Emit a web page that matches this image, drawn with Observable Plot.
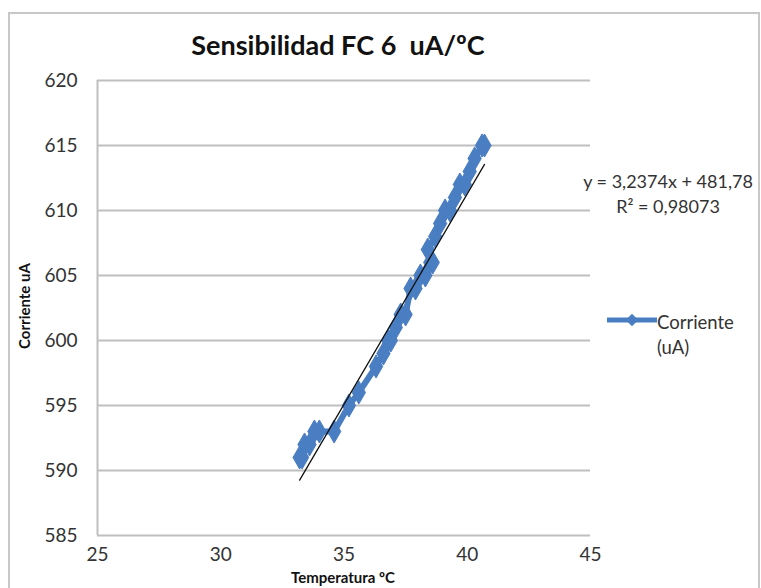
<!DOCTYPE html>
<html>
<head>
<meta charset="utf-8">
<script src="https://cdn.jsdelivr.net/npm/d3@7"></script>
<script src="https://cdn.jsdelivr.net/npm/@observablehq/plot@0.6"></script>
<style>
  html, body { margin: 0; padding: 0; background: #fff; }
  #chart { width: 761px; height: 588px; }
</style>
</head>
<body>
<div id="chart"></div>
<script>
// ---- data ----
const temperature = [33.2,33.3,33.4,33.6,33.8,34.0,34.6,35.2,35.6,36.3,36.6,36.8,36.9,37.1,37.3,37.5,37.7,37.9,38.1,38.3,38.5,38.6,38.4,38.7,38.9,39.1,39.3,39.5,39.7,39.9,40.1,40.3,40.6,40.7];
const current     = [591,591,592,592,593,593,593,595,596,598,599,600,600,601,602,602,604,604,605,605,606,606,607,608,609,610,610,611,612,612,613,614,615,615];
const xTicks = [25, 30, 35, 40, 45];
const yTicks = [585, 590, 595, 600, 605, 610, 615, 620];
const trendSlope = 3.2374;
const trendIntercept = 481.78;
const chartTitle = "Sensibilidad FC 6  uA/ºC";
const xLabel = "Temperatura ºC";
const yLabel = "Corriente uA";
const equationLines = ["y = 3,2374x + 481,78", "R² = 0,98073"];
const legendLines = ["Corriente", "(uA)"];

const blue = "#4A7EC2";
const grid = "#BFBFBF";
const font = "Lato, 'Open Sans', sans-serif";

const data = temperature.map((t, i) => ({t, c: current[i]}));
const tExt = d3.extent(temperature);
const trend = tExt.map(t => ({t, c: trendSlope * t + trendIntercept}));

const W = 761, H = 588;
const plot = Plot.plot({
  width: W, height: H,
  marginLeft: 97, marginRight: 171, marginTop: 80, marginBottom: 53,
  style: {fontFamily: font, fontSize: "19px", color: "#333", background: "transparent"},
  x: {domain: [25, 45], ticks: xTicks, label: null},
  y: {domain: [585, 620], ticks: yTicks, label: null},
  marks: [
    Plot.gridY(yTicks, {stroke: grid, strokeOpacity: 1, strokeWidth: 2}),
    Plot.ruleX([25], {stroke: grid, strokeWidth: 2}),
    Plot.axisY(yTicks, {tickSize: 0, tickPadding: 20, fontSize: 19, fill: "#333", tickFormat: d => d}),
    Plot.axisX(xTicks, {tickSize: 0, tickPadding: 12, fontSize: 19, fill: "#333", tickFormat: d => d}),
    Plot.line(data, {x: "t", y: "c", stroke: blue, strokeWidth: 6}),
    Plot.dot(data, {x: "t", y: "c", symbol: "diamond", r: 7, fill: blue, stroke: blue, strokeWidth: 1}),
    Plot.line(trend, {x: "t", y: "c", stroke: "#111", strokeWidth: 1.3})
  ]
});
document.getElementById("chart").appendChild(plot);

// ---- annotations within the same SVG ----
const svg = d3.select(plot);
svg.insert("rect", ":first-child")
  .attr("x", 9).attr("y", 13).attr("width", 750).attr("height", 590)
  .attr("fill", "#fff").attr("stroke", "#C8C8C8").attr("stroke-width", 2);

svg.append("text").text(chartTitle)
  .attr("x", 338).attr("y", 55).attr("text-anchor", "middle")
  .attr("font-family", font).attr("font-weight", "bold").attr("font-size", 27).attr("fill", "#111");

svg.append("text").text(xLabel)
  .attr("x", 343).attr("y", 583).attr("text-anchor", "middle")
  .attr("font-family", font).attr("font-weight", "bold").attr("font-size", 15).attr("fill", "#111");

svg.append("text").text(yLabel)
  .attr("transform", "translate(25,306) rotate(-90)").attr("text-anchor", "middle").attr("dy", "0.35em")
  .attr("font-family", font).attr("font-weight", "bold").attr("font-size", 15).attr("fill", "#111");

equationLines.forEach((s, i) => {
  svg.append("text").text(s)
    .attr("x", 668).attr("y", 188 + i * 25).attr("text-anchor", "middle")
    .attr("font-family", font).attr("font-size", 18).attr("fill", "#333");
});

// legend
const lg = svg.append("g");
lg.append("line").attr("x1", 607).attr("x2", 657).attr("y1", 320).attr("y2", 320)
  .attr("stroke", blue).attr("stroke-width", 5);
lg.append("path").attr("d", d3.symbol(d3.symbolDiamond2, 100)()).attr("transform", "translate(632,320)")
  .attr("fill", blue);
legendLines.forEach((s, i) => {
  lg.append("text").text(s).attr("x", 657).attr("y", 329 + i * 25).attr("text-anchor", "start")
    .attr("font-family", font).attr("font-size", 18.5).attr("fill", "#333");
});
</script>
</body>
</html>
